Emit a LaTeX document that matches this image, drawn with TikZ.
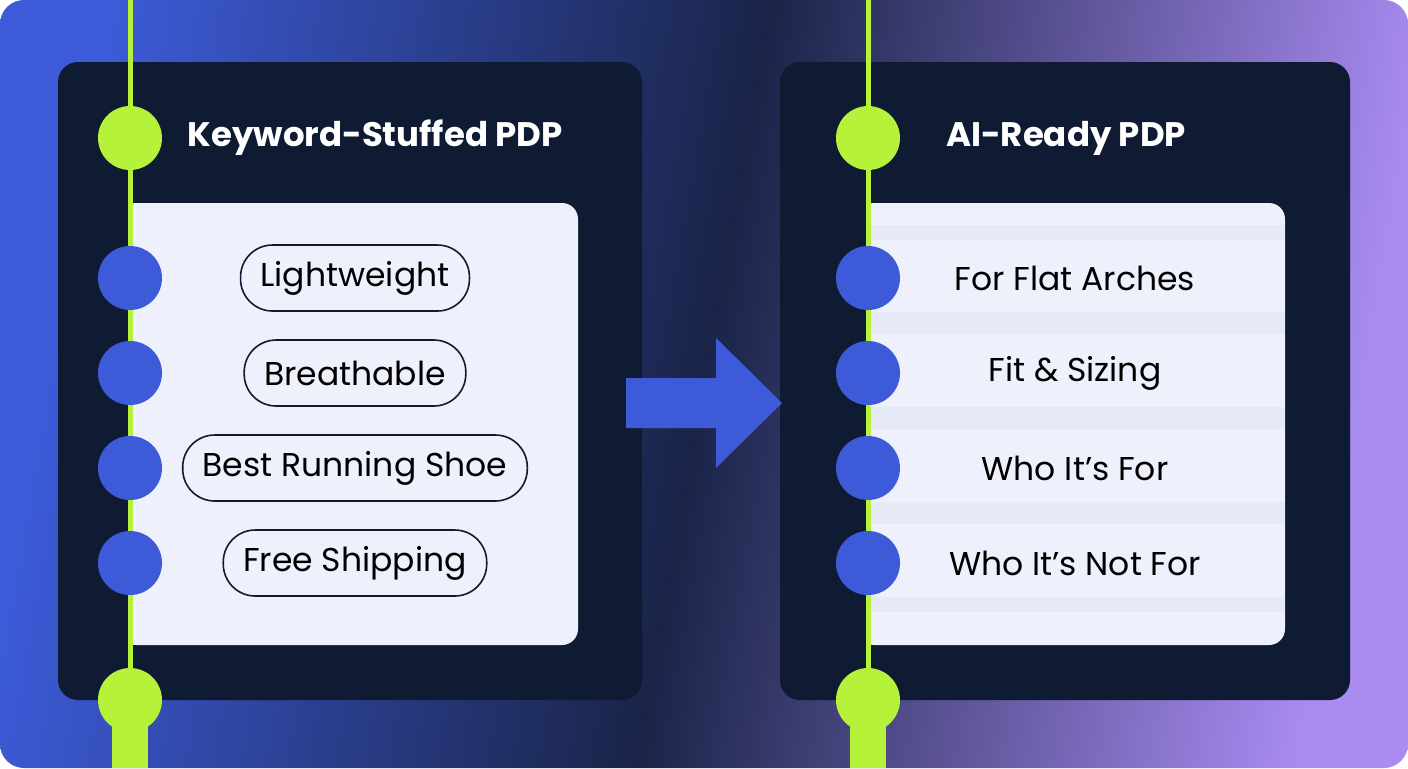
\documentclass[tikz,border=0pt]{standalone}
\usepackage{fontspec}
\setmainfont{Poppins}
\usetikzlibrary{shapes.geometric}
\definecolor{navy}{HTML}{0F1A33}
\definecolor{bgnavy}{HTML}{1A2448}
\definecolor{bblue}{HTML}{3D5BD9}
\definecolor{lgreen}{HTML}{B6F23A}
\definecolor{paper}{HTML}{EEF0FB}
\definecolor{stripe}{HTML}{E6E9F6}
\definecolor{purp}{HTML}{A98BF2}
\tikzset{
 panel/.style={fill=navy,rounded corners=10pt},
 gdot/.style={circle,fill=lgreen,minimum size=32pt,inner sep=0pt},
 bdot/.style={circle,fill=bblue,minimum size=32pt,inner sep=0pt},
 pill/.style={draw=navy,line width=0.8pt,rounded corners=16pt,minimum height=33pt,inner xsep=10pt,font=\fontsize{16.5}{19}\selectfont,text=black},
 item/.style={font=\fontsize{16.5}{19}\selectfont,text=black},
 ttl/.style={font=\fontsize{17}{20}\selectfont\bfseries,text=white}
}
\begin{document}
\begin{tikzpicture}[x=0.5pt,y=-0.5pt]
\useasboundingbox (0,0) rectangle (1408,768);
\begin{scope}
\clip[rounded corners=12pt] (0,0) rectangle (1408,768);
\shade[left color=bblue,right color=purp,middle color=bgnavy,shading angle=80] (0,0) rectangle (1408,768);
\end{scope}
% left panel
\fill[panel] (58,62) rectangle (642,700);
\fill[paper,rounded corners=8pt] (120,203) rectangle (578,645);
\fill[navy] (120,203) rectangle (130,645);
\fill[lgreen] (128,0) rectangle (133,700);
\fill[lgreen] (112,700) rectangle (148,768);
\node[gdot] (lt) at (130,138) {};
\node[gdot] (lb) at (130,700) {};
\node[ttl] (ltitle) at (375,138) {Keyword-Stuffed PDP};
\foreach \y/\t [count=\i] in {278/Lightweight,373/Breathable,468/Best Running Shoe,563/Free Shipping}{
 \node[bdot] (ld\i) at (130,\y) {};
 \node[pill] (lp\i) at (355,\y) {\t};
}
% right panel
\fill[panel] (780,62) rectangle (1350,700);
\fill[paper,rounded corners=8pt] (858,203) rectangle (1285,645);
\fill[navy] (858,203) rectangle (868,645);
\foreach \y in {312,407,502}{\fill[stripe] (868,\y) rectangle (1285,\y+22);}
\fill[stripe] (868,225) rectangle (1285,240);
\fill[stripe] (868,597) rectangle (1285,612);
\fill[lgreen] (866,0) rectangle (871,700);
\fill[lgreen] (850,700) rectangle (886,768);
\node[gdot] (rt) at (868,138) {};
\node[gdot] (rb) at (868,700) {};
\node[ttl] (rtitle) at (1066,138) {AI-Ready PDP};
\foreach \y/\t [count=\i] in {278/For Flat Arches,373/Fit \& Sizing,468/Who It’s For,563/Who It’s Not For}{
 \node[bdot] (rd\i) at (868,\y) {};
 \node[item] (ri\i) at (1075,\y) {\t};
}
% arrow
\fill[bblue] (626,378) -- (716,378) -- (716,338) -- (782,403) -- (716,468) -- (716,428) -- (626,428) -- cycle;
\end{tikzpicture}
\end{document}
